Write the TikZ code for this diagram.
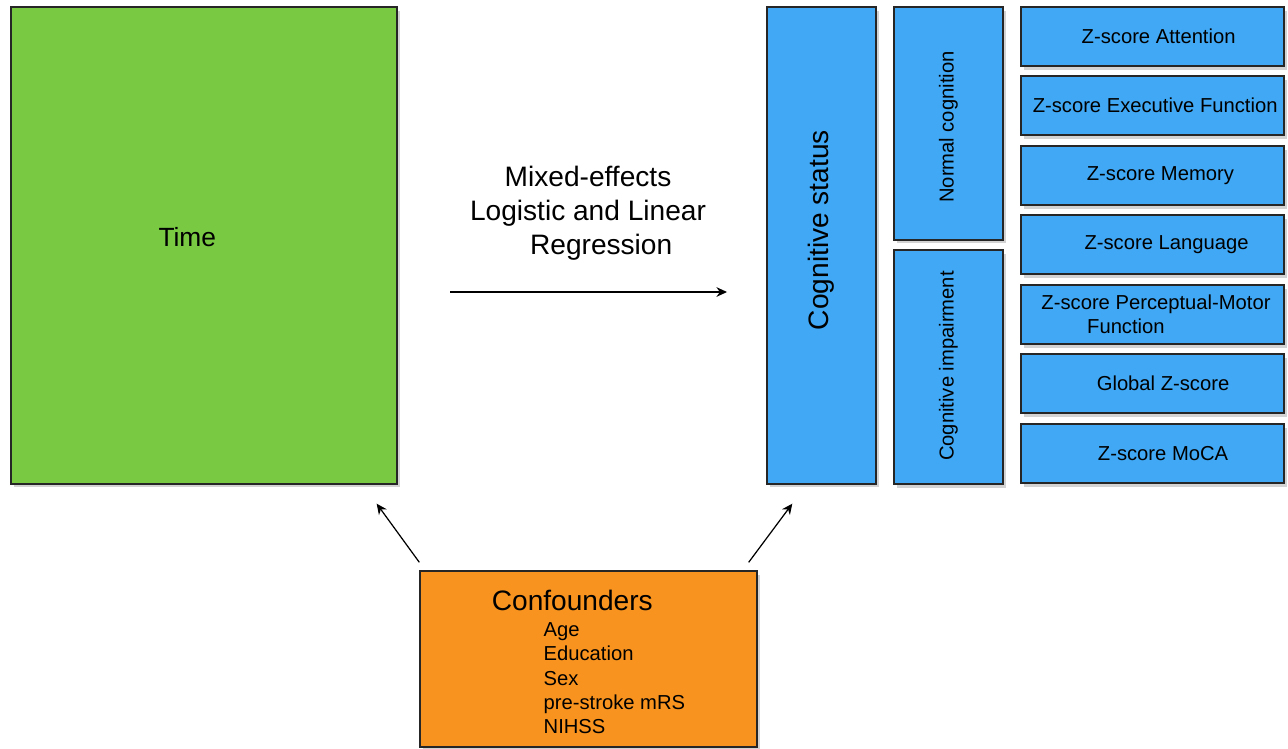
\documentclass[tikz,border=0pt]{standalone}
\usepackage{fontspec}
\setmainfont{Liberation Sans}
\usepackage{tikz}
\usetikzlibrary{calc, arrows.meta, shadows}

\definecolor{timegreen}{HTML}{79C943}
\definecolor{cogblue}{HTML}{40A8F4}
\definecolor{confound}{HTML}{F8931F}

\tikzset{
  box/.style={draw=black!85, line width=0.8pt, inner sep=0pt,
    drop shadow={opacity=0.35, shadow xshift=1.5pt, shadow yshift=-2pt}},
  zbox/.style={box, fill=cogblue, minimum width=5.26cm, minimum height=1.18cm,
    font=\fontsize{11.5}{13.5}\selectfont},
  vbox/.style={box, fill=cogblue, minimum width=2.18cm},
  link/.style={line width=0.7pt, -{Stealth[length=6pt,width=5.5pt]}}
}

\begin{document}
\begin{tikzpicture}[x=0.02cm, y=-0.02cm]
        \useasboundingbox (0,0) rectangle (1288,748);

        % exposure and outcomes
        \node[box, fill=timegreen, minimum width=7.72cm, minimum height=9.54cm,
              font=\fontsize{15}{18}\selectfont] (time) at (204,245.5)
              {\raisebox{10pt}{Time}\hspace*{19pt}};
        \node[vbox, minimum height=9.54cm] (status) at (821.5,245.5) {};
        \node[rotate=90, font=\fontsize{16}{19}\selectfont] (statustxt) at (821.5,230) {Cognitive status};
        \node[vbox, minimum height=4.66cm] (normal) at (948.5,123.5) {};
        \node[rotate=90, font=\fontsize{11.5}{13.5}\selectfont] (normaltxt) at (948.5,127) {Normal cognition};
        \node[vbox, minimum height=4.68cm] (impair) at (948.5,367) {};
        \node[rotate=90, font=\fontsize{11.5}{13.5}\selectfont] (impairtxt) at (948.5,366) {Cognitive impairment};

        \node[zbox] (zatt) at (1152.5,36.5) {\hspace*{7pt}Z-score Attention};
        \node[zbox] (zexe) at (1152.5,105.5) {\hspace*{3pt}Z-score Executive Function};
        \node[zbox] (zmem) at (1152.5,175.5) {\hspace*{9pt}Z-score Memory};
        \node[zbox] (zlang) at (1152.5,244.5) {\hspace*{16pt}Z-score Language};
        \node[zbox, align=left] (zpm) at (1152.5,314.5)
              {\hspace*{4pt}Z-score Perceptual-Motor\\\hspace*{30pt}Function};
        \node[zbox] (zglob) at (1152.5,383.5) {\hspace*{12pt}Global Z-score};
        \node[zbox] (zmoca) at (1152.5,453.5) {\hspace*{12pt}Z-score MoCA};

        % model
        \node[align=center, font=\fontsize{16}{19.5}\selectfont] (model) at (588,213)
              {Mixed-effects\\Logistic and Linear\\\hspace*{15pt}Regression};
        \coordinate (modelL) at (450,292);
        \coordinate (modelR) at (727,292);
        \draw[link] (modelL) -- (modelR);

        % confounders
        \node[box, fill=confound, minimum width=6.74cm, minimum height=3.52cm,
              align=left, font=\fontsize{11.5}{13.8}\selectfont] (conf) at (588.5,659)
              {{\fontsize{16}{16}\selectfont\rule{0pt}{15pt}Confounders}\\[1pt]
               \hspace*{29.5pt}Age\\
               \hspace*{29.5pt}Education\\
               \hspace*{29.5pt}Sex\\
               \hspace*{29.5pt}pre-stroke mRS\\
               \hspace*{29.5pt}NIHSS};

        \coordinate (confL) at ($(conf.north west)+(0,-8)$);
        \coordinate (confR) at ($(conf.north east)+(-9,-8)$);
        \coordinate (timeT) at ($(time.south east)+(-21,19)$);
        \coordinate (statusT) at ($(status.south west)+(26,19)$);
        \draw[link] (confL) -- (timeT);
        \draw[link] (confR) -- (statusT);
\end{tikzpicture}
\end{document}
